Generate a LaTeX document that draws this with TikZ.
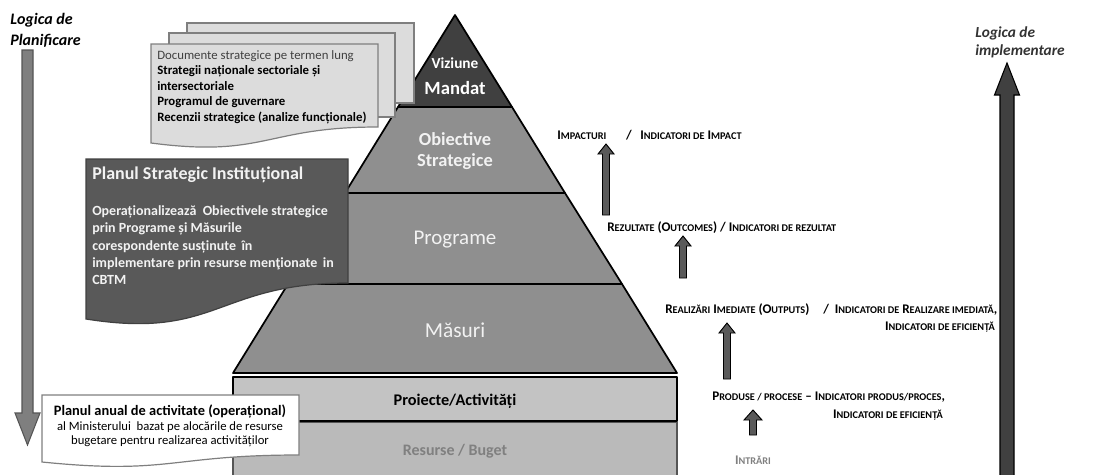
\documentclass[tikz,border=0pt]{standalone}
\usepackage{fontspec}
\setmainfont{Carlito}
\definecolor{darkpyr}{HTML}{404040}
\definecolor{midpyr}{HTML}{8F8F8F}
\definecolor{proj}{HTML}{C3C3C3}
\definecolor{res}{HTML}{BABABA}
\definecolor{docfill}{HTML}{DCDCDC}
\definecolor{docline}{HTML}{7F7F7F}
\definecolor{psi}{HTML}{595959}
\definecolor{larrow}{HTML}{7F7F7F}
\definecolor{larrowline}{HTML}{555555}
\definecolor{rarrow}{HTML}{404040}
\definecolor{sarrow}{HTML}{5A5A5A}
\definecolor{lighttxt}{HTML}{F2F2F2}
\definecolor{restxt}{HTML}{808080}
\newcommand\sm[1]{{\fontsize{7.7}{8.5}\selectfont #1}}
% block arrow: style, x, ybottom, ytip, half shaft, half head, head length
\newcommand\barrow[7]{\draw[#1] ({#2-#5},#3) -- ({#2-#5},{#4+#7}) -- ({#2-#6},{#4+#7}) -- (#2,#4) -- ({#2+#6},{#4+#7}) -- ({#2+#5},{#4+#7}) -- ({#2+#5},#3) -- cycle;}
\tikzset{
  layer/.style={draw=black, line width=1.3pt, line join=round},
  sheet/.style={draw=docline, fill=docfill, line width=0.9pt},
  pyrtxt/.style={text=lighttxt, inner sep=0pt},
  ind/.style={font=\bfseries\fontsize{9.9}{11}\selectfont, inner sep=0pt},
  smallarrow/.style={draw=black, fill=sarrow, line width=0.7pt},
  logic/.style={font=\bfseries\itshape\fontsize{12}{15.5}\selectfont, align=left, inner sep=0pt}
}
\begin{document}
\begin{tikzpicture}[x=0.75pt,y=-0.75pt]
\useasboundingbox (0,0) rectangle (1108,475);
\clip (0,0) rectangle (1108,475);

% ---------- pyramid ----------
\path[layer, fill=res, line width=0.8pt, draw=larrowline] (233,422) rectangle (677,490);
\path[layer, fill=proj, line width=2.2pt] (233,377) rectangle (677,421);
\path[layer, fill=midpyr] (233,373) -- (288,284) -- (622,284) -- (677,373) -- cycle;
\path[layer, fill=midpyr] (288,284) -- (345,193) -- (565,193) -- (622,284) -- cycle;
\path[layer, fill=midpyr] (345,193) -- (398,107) -- (512,107) -- (565,193) -- cycle;
\path[layer, fill=darkpyr] (398,107) -- (455,15) -- (512,107) -- cycle;

\node[pyrtxt, text=white, font=\bfseries\fontsize{11.5}{13}\selectfont] (viz) at (455,63) {Viziune};
\node[pyrtxt, text=white, font=\bfseries\fontsize{14}{16}\selectfont] (man) at (455,88) {Mandat};
\node[pyrtxt, font=\bfseries\fontsize{13.8}{16}\selectfont, align=center] (obi) at (455,151) {Obiective\\Strategice};
\node[pyrtxt, font=\fontsize{15.7}{18}\selectfont] (prg) at (455,240) {Programe};
\node[pyrtxt, font=\fontsize{16}{18}\selectfont] (mas) at (455,330) {Măsuri};
\node[inner sep=0pt, font=\bfseries\fontsize{12.2}{14}\selectfont] (proi) at (455,401) {Proiecte/Activități};
\node[inner sep=0pt, text=restxt, font=\bfseries\fontsize{12}{14}\selectfont] (res) at (455,451) {Resurse / Buget};

% ---------- document stack ----------
\path[sheet] (187,23) rectangle (414,103);
\path[sheet] (169,33) rectangle (395,117);
\path[sheet] (151,44) -- (378,44) -- (378,127) .. controls (265,127) and (265,158) .. (151,143) -- cycle;
\node[anchor=north west, inner sep=0pt, align=left, font=\fontsize{9.6}{11.6}\selectfont] (docs) at (157,50)
 {\textcolor{darkpyr}{Documente strategice pe termen lung}\\
  \textbf{Strategii naționale sectoriale și}\\
  \textbf{intersectoriale}\\
  \textbf{Programul de guvernare}\\
  \textbf{Recenzii strategice (analize funcționale)}};

% ---------- Planul Strategic Institutional ----------
\path[fill=psi, draw=darkpyr, line width=0.9pt] (86,159) -- (348,159) -- (348,283) .. controls (217,283) and (217,340) .. (86,319) -- cycle;
\node[anchor=west, inner sep=0pt, text=lighttxt, font=\bfseries\fontsize{13.5}{16}\selectfont] (psit) at (92,175) {Planul Strategic Instituțional};
\node[anchor=north west, inner sep=0pt, align=left, text=lighttxt, font=\bfseries\fontsize{10.5}{13.1}\selectfont] (psib) at (92,205)
 {Operaționalizează\ \ Obiectivele strategice\\
  prin Programe și Măsurile\\
  corespondente susținute \,în\\
  implementare prin resurse menţionate \,in\\
  CBTM};

% ---------- left logic arrow ----------
\node[logic, anchor=north west] (lplan) at (10,13) {Logica de\\Planificare};
\path[fill=larrow, draw=larrowline, line width=0.8pt] (22,50) -- (33,50) -- (33,413) -- (40,413) -- (27.5,445) -- (15,413) -- (22,413) -- cycle;

% ---------- Planul anual ----------
\path[fill=white, draw=docline, line width=0.9pt] (42,395) -- (299,395) -- (299,455) .. controls (170,455) and (170,475) .. (42,462) -- cycle;
\node[inner sep=0pt, align=center] (anual) at (170,426)
 {{\bfseries\fontsize{10.8}{13}\selectfont Planul anual de activitate (operațional)}\\[-1pt]
  {\fontsize{9.5}{11}\selectfont al Ministerului\ \ bazat pe alocările de resurse}\\[-1pt]
  {\fontsize{9.5}{11}\selectfont bugetare pentru realizarea activităților}};

% ---------- right logic arrow ----------
\node[logic, anchor=north west, text=darkpyr!80!black, font=\bfseries\itshape\fontsize{11.5}{14}\selectfont] (limp) at (975,26) {Logica de\\implementare};
\path[fill=rarrow, draw=black, line width=0.8pt] (1000,490) -- (1000,95) -- (994.5,95) -- (1007,63) -- (1019.5,95) -- (1014,95) -- (1014,490) -- cycle;

% ---------- indicators ----------
\node[ind, anchor=west] (imp) at (557,135) {I\sm{MPACTURI}};
\node[ind] (impsl) at (629,135) {/};
\node[ind, anchor=west] (impind) at (640,135) {I\sm{NDICATORI DE} I\sm{MPACT}};
\node[ind, anchor=west] (rez) at (607,228) {R\sm{EZULTATE} (O\sm{UTCOMES}) / I\sm{NDICATORI DE REZULTAT}};
\node[ind, anchor=west] (real) at (665,310) {R\sm{EALIZĂRI} I\sm{MEDIATE} (O\sm{UTPUTS})};
\node[ind, anchor=west] (realind) at (823,310) {/\ \ I\sm{NDICATORI DE} R\sm{EALIZARE IMEDIATĂ},};
\node[ind, anchor=east] (realef) at (995,327) {I\sm{NDICATORI DE EFICIENȚĂ}};
\node[ind, anchor=west] (prod) at (712,397) {P\sm{RODUSE / PROCESE} -- I\sm{NDICATORI PRODUS/PROCES},};
\node[ind, anchor=east] (prodef) at (943,415) {I\sm{NDICATORI DE EFICIENȚĂ}};
\node[ind, text=restxt] (intr) at (753,460) {I\sm{NTRĂRI}};

\barrow{smallarrow}{606}{215}{144}{3.5}{8}{10}
\barrow{smallarrow}{683}{278}{236}{3.5}{8}{10}
\barrow{smallarrow}{727}{379}{323}{3.5}{8}{10}
\barrow{smallarrow}{753}{435}{410}{3.5}{9}{10}
\end{tikzpicture}
\end{document}
